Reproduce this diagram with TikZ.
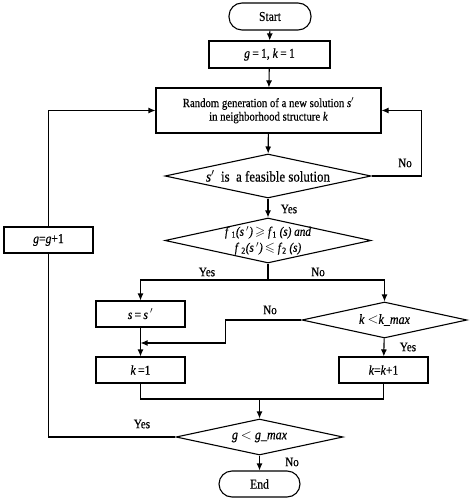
\documentclass[tikz,border=0pt]{standalone}
\usepackage{amssymb}
\usepackage{fontspec}
\setmainfont{Liberation Serif}[FakeStretch=0.86,FakeBold=0.5]
\usetikzlibrary{shapes.geometric,arrows.meta}
\begin{document}
\begin{tikzpicture}[x=1pt,y=-1pt,line width=1.1pt,
  box/.style={draw,rectangle,inner sep=0pt,font=\fontsize{13.5}{14}\selectfont,align=center},
  term/.style={draw,rectangle,rounded corners=13pt,inner sep=0pt,font=\fontsize{13.5}{14}\selectfont},
  dia/.style={draw,diamond,inner sep=0pt,font=\fontsize{14}{12.5}\selectfont,align=center},
  lbl/.style={font=\fontsize{13}{13}\selectfont,inner sep=0pt},
  arr/.style={-{Latex[length=7pt,width=6pt]}}]
\useasboundingbox (0,0) rectangle (474,502);
\node[term,minimum width=82pt,minimum height=27pt] (start) at (270,16.5) {Start};
\node[box,minimum width=121pt,minimum height=27pt] (init) at (269.5,54.5) {\textit{g}\,=\,1,\ \textit{k}\,=\,1};
\node[box,font=\fontsize{12.5}{13.5}\selectfont,minimum width=225pt,minimum height=45pt] (gen) at (268.5,110.5) {Random generation of a new solution \textit{s}$'$\\in neighborhood structure \textit{k}};
\node[dia,font=\fontsize{15}{15}\selectfont,shape aspect=4.7,minimum width=206pt,minimum height=44pt] (feas) at (268,176) {\textit{s}$'$\ \ is\ \ a feasible solution};
\node[dia,font=\fontsize{13}{16}\selectfont,inner ysep=-8pt,shape aspect=4.6,minimum width=206pt,minimum height=45pt] (cmp) at (268,240.5) {\textit{f}\,\textsubscript{1}\textit{(s\,$'$)}\,$\geqslant$\ \textit{f}\textsubscript{1} \textit{(s) and}\\\textit{f}\,\textsubscript{2}\textit{(s\,$'$)}\,$\leqslant$\ \textit{f}\textsubscript{2} \textit{(s)}};
\node[box,minimum width=89pt,minimum height=26pt] (ss) at (140.5,314) {\textit{s}\,=\,\textit{s}\,$'$};
\node[dia,shape aspect=4.6,minimum width=165pt,minimum height=36pt] (kmax) at (384.5,320) {\textit{k} $<$\textit{k\_max}};
\node[box,minimum width=89pt,minimum height=26pt] (k1) at (140.5,370) {\textit{k}\,=1};
\node[box,minimum width=89pt,minimum height=26pt] (kk) at (383.5,370) {\textit{k}=\textit{k}+1};
\node[dia,shape aspect=4.6,minimum width=167pt,minimum height=36pt] (gmax) at (259.5,437) {\textit{g} $<$ \textit{g\_max}};
\node[box,minimum width=89pt,minimum height=26pt] (gg) at (48.5,240) {\textit{g}=\textit{g}+1};
\node[term,minimum width=81pt,minimum height=26pt] (end) at (259.5,484) {End};
\coordinate (split) at (268,280);
\coordinate (m1) at (140.5,343);
\coordinate (join) at (259.5,399);
\draw[arr] (start) -- (init);
\draw[arr] (init) -- (gen);
\draw[arr] (gen) -- (feas);
\draw[arr] (feas.east) -- ++(50,0) |- (gen.east);
\node[lbl] (no1) at (405,163) {No};
\draw[arr] (feas) -- (cmp);
\node[lbl] (yes1) at (289,209) {Yes};
\draw (cmp.south) -- (split);
\draw[arr] (split) -| (ss.north);
\draw[arr] (split) -| (kmax.north);
\node[lbl] (yes2) at (207,272) {Yes};
\node[lbl] (no2) at (318,272) {No};
\draw[arr] (kmax.west) -- ++(-76,0) |- (m1);
\node[lbl] (no3) at (270,310) {No};
\draw[arr] (ss) -- (k1);
\draw[arr] (kmax) -- (kk);
\node[lbl] (yes3) at (408,347) {Yes};
\draw (k1.south) |- (join) -| (kk.south);
\draw[arr] (join) -- (gmax.north);
\draw (gmax.west) -| (gg.south);
\draw[arr] (gg.north) |- (gen.west);
\node[lbl] (yes4) at (142,424) {Yes};
\draw[arr] (gmax) -- (end);
\node[lbl] (no4) at (292,462) {No};
\end{tikzpicture}
\end{document}
